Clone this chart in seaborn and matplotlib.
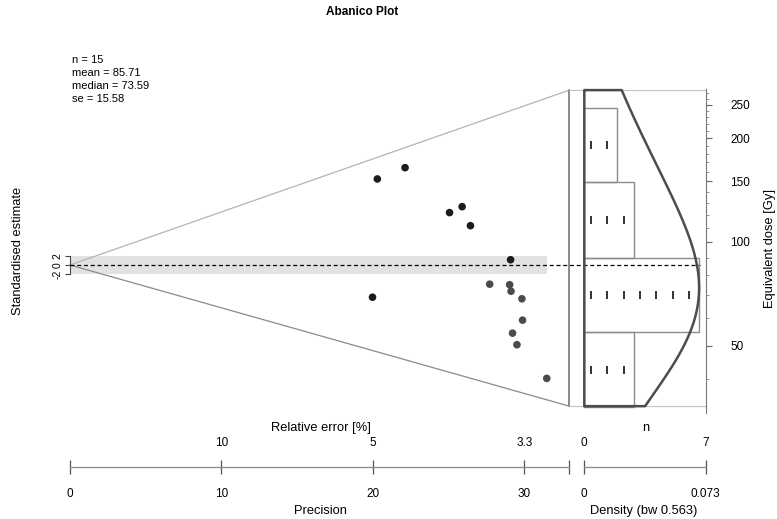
import numpy as np
import pandas as pd
import matplotlib
matplotlib.use("Agg")
import matplotlib.pyplot as plt
import seaborn as sns

# ---------------- data ----------------
de_gy = [217.9, 225.7, 135.8, 140.7, 118.9, 89.2, 60.1, 73.59, 73.8, 70.3, 66.8, 57.1, 51.3, 47.3, 38.8]
precision = [20.30, 22.13, 25.07, 25.90, 26.45, 29.10, 19.98, 27.72, 29.04, 29.13, 29.85, 29.89, 29.23, 29.52, 31.49]
point_group = ["dark"] * 7 + ["grey"] * 8
central_de = 85.71
de_limits = [33.4, 275.5]
hist_edges = [33.2, 54.8, 90.0, 149.0, 245.0]
kde_bw = 0.563
kde_max = 0.073
n_max = 7
stats_lines = ["n = 15", "mean = 85.71", "median = 73.59", "se = 15.58"]
precision_ticks = [0, 10, 20, 30]
dose_major = [50, 100, 150, 200, 250]
dose_minor = list(range(40, 280, 10))

# ---------------- layout (pixels of a 777x519 canvas) ----------------
W, H = 777, 519
X0, PX_P = 70.0, 15.14        # precision 0 position, px per precision unit
Y0, PX_Z = 265.0, 4.542       # z = 0 position, px per standardised unit
P_R = (569.3 - X0) / PX_P     # right edge of radial part
HX0, PX_N = 584.3, 16.4       # histogram zero, px per count
L, R, T, B = 60.0, 720.0, 80.0, 415.0
AX_RIGHT_PX = 706.0
DASH_END_PX = 700.0
LINE_Y = 466.7

def fx(px):
    return px / W

def fy(py):
    return 1.0 - py / H

sns.set_theme(style="white")
plt.rcParams["font.family"] = ["Liberation Sans", "DejaVu Sans"]
plt.rcParams["axes.unicode_minus"] = False
plt.rcParams["text.color"] = "black"
plt.rcParams["xtick.color"] = "black"
plt.rcParams["ytick.color"] = "black"
plt.rcParams["xtick.labelcolor"] = "black"
plt.rcParams["ytick.labelcolor"] = "black"

fig = plt.figure(figsize=(7.77, 5.19), dpi=100)
rect = [fx(L), fy(B), fx(R) - fx(L), fy(T) - fy(B)]

# ---------------- radial (abanico) part ----------------
ax = fig.add_axes(rect)
xlim = ((L - X0) / PX_P, (R - X0) / PX_P)
ylim = ((Y0 - B) / PX_Z, (Y0 - T) / PX_Z)
ax.set_xlim(*xlim)
ax.set_ylim(*ylim)

lnC = np.log(central_de)
z = (np.log(de_gy) - lnC) * np.array(precision)
df = pd.DataFrame({"precision": precision, "z": z, "group": point_group})

z_top = (np.log(de_limits[1]) - lnC) * P_R
z_bot = (np.log(de_limits[0]) - lnC) * P_R
p_axis = (AX_RIGHT_PX - X0) / PX_P

ax.fill_between([0, max(precision)], -2, 2, color="#e2e2e2", lw=0, zorder=0)
ax.plot([0, P_R], [0, z_top], color="#b4b4b4", lw=0.9, zorder=1)
ax.plot([0, P_R], [0, z_bot], color="#8a8a8a", lw=0.9, zorder=1)
ax.plot([P_R, P_R], [z_bot, z_top], color="#8a8a8a", lw=1.4, zorder=1)
ax.hlines([z_top, z_bot], P_R, p_axis, color="#c4c4c4", lw=0.8, zorder=1)
ax.plot([0, (DASH_END_PX - X0) / PX_P], [0, 0], color="black", lw=0.9,
        dashes=(3.2, 2.2), zorder=3)

sns.scatterplot(data=df, x="precision", y="z", hue="group",
                palette={"dark": "#1c1c1c", "grey": "#4b4b4b"},
                s=30, edgecolor="none", legend=False, ax=ax, zorder=4)

for side in ["top", "right", "bottom"]:
    ax.spines[side].set_visible(False)
ax.spines["left"].set_position(("data", 0))
ax.spines["left"].set_bounds(-2, 2)
ax.spines["left"].set_color("#444444")
ax.spines["left"].set_linewidth(0.8)
ax.set_xticks([])
ax.set_yticks([-2, 0, 2])
ax.set_yticklabels(["-2", "0", "2"], rotation=90, va="center", fontsize=7.5)
ax.tick_params(axis="y", left=True, length=3.5, width=0.8, color="#444444", pad=2)
ax.set_xlabel("")
ax.set_ylabel("")
ax.grid(False)

# ---------------- histogram / KDE part ----------------
axh = fig.add_axes(rect)
axh.patch.set_visible(False)
axh.set_xlim((L - HX0) / PX_N, (R - HX0) / PX_N)
axh.set_ylim(lnC + ylim[0] / P_R, lnC + ylim[1] / P_R)

ln_de = np.log(de_gy)
sns.histplot(y=ln_de, bins=np.log(hist_edges), ax=axh, fill=False,
             color="#8c8c8c", linewidth=1.0)

grid = np.linspace(np.log(de_limits[0]), np.log(de_limits[1]), 300)
dens = np.exp(-0.5 * ((grid[:, None] - ln_de[None, :]) / kde_bw) ** 2).sum(axis=1)
dens = dens / dens.max() * kde_max
axh.fill_betweenx(grid, 0, dens * n_max / kde_max, facecolor="none",
                  edgecolor="#4d4d4d", lw=1.8)

counts, _ = np.histogram(ln_de, bins=np.log(hist_edges))
log_edges = np.log(hist_edges)
rx, ry = [], []
for i, c in enumerate(counts):
    mid = 0.5 * (log_edges[i] + log_edges[i + 1])
    for k in range(c):
        rx.append(k + 0.4)
        ry.append(mid)
axh.plot(rx, ry, ls="none", marker="|", ms=5.5, mew=1.3, color="#222222")

for side in ["top", "left", "bottom"]:
    axh.spines[side].set_visible(False)
axh.spines["right"].set_visible(True)
axh.spines["right"].set_position(("axes", (AX_RIGHT_PX - L) / (R - L)))
axh.spines["right"].set_bounds(np.log(31.9), np.log(277))
axh.spines["right"].set_color("#777777")
axh.spines["right"].set_linewidth(0.8)
axh.set_xticks([])
axh.yaxis.tick_right()
axh.set_yticks(np.log(dose_major))
axh.set_yticklabels([str(v) for v in dose_major], fontsize=8.5)
axh.set_yticks(np.log(dose_minor), minor=True)
axh.tick_params(axis="y", which="major", right=True, length=4.5, width=0.8,
                color="#666666", pad=13)
axh.tick_params(axis="y", which="minor", right=True, length=2.2, width=0.6,
                color="#888888")
axh.set_xlabel("")
axh.set_ylabel("")
axh.grid(False)

# ---------------- bottom axes: precision / relative error ----------------
axb = fig.add_axes([fx(L), fy(LINE_Y), fx(R) - fx(L), 1e-4])
axb.set_xlim(*xlim)
axb.patch.set_visible(False)
for side in ["top", "left", "right"]:
    axb.spines[side].set_visible(False)
axb.spines["bottom"].set_bounds(0, P_R)
axb.spines["bottom"].set_color("#8a8a8a")
axb.spines["bottom"].set_linewidth(0.9)
axb.set_yticks([])
axb.set_xticks(precision_ticks + [P_R])
axb.set_xticklabels([str(t) for t in precision_ticks] + [""], fontsize=8.5)
axb.tick_params(axis="x", bottom=True, direction="inout", length=10, width=0.9,
                color="#555555", pad=10.3)
sec = axb.secondary_xaxis("top")
sec.set_xticks(precision_ticks[1:])
sec.set_xticklabels(["%g" % round(100.0 / p, 1) for p in precision_ticks[1:]],
                    fontsize=8.5)
sec.tick_params(axis="x", top=True, length=0, pad=12.7)
for sp in sec.spines.values():
    sp.set_visible(False)

# ---------------- bottom axes: density / n ----------------
axd = fig.add_axes([fx(HX0), fy(LINE_Y), fx(705.7) - fx(HX0), 1e-4])
axd.set_xlim(0, kde_max)
axd.patch.set_visible(False)
for side in ["top", "left", "right"]:
    axd.spines[side].set_visible(False)
axd.spines["bottom"].set_color("#8a8a8a")
axd.spines["bottom"].set_linewidth(0.9)
axd.set_yticks([])
axd.set_xticks([0, kde_max])
axd.set_xticklabels(["0", "%g" % kde_max], fontsize=8.5)
axd.tick_params(axis="x", bottom=True, direction="inout", length=10, width=0.9,
                color="#555555", pad=10.3)
secd = axd.secondary_xaxis("top", functions=(lambda v: v * n_max / kde_max,
                                             lambda v: v * kde_max / n_max))
secd.set_xticks([0, n_max])
secd.set_xticklabels(["0", str(n_max)], fontsize=8.5)
secd.tick_params(axis="x", top=True, length=0, pad=12.7)
for sp in secd.spines.values():
    sp.set_visible(False)

# ---------------- texts ----------------
fig.text(fx(362), fy(12), "Abanico Plot", ha="center", va="center",
         fontsize=8.5, weight="bold")
for i, line in enumerate(stats_lines):
    fig.text(fx(72), fy(60 + 12.9 * i), line, ha="left", va="center", fontsize=8)
fig.text(fx(18), fy(251), "Standardised estimate", rotation=90,
         ha="center", va="center", fontsize=9.3)
fig.text(fx(770), fy(249), "Equivalent dose [Gy]", rotation=90,
         ha="center", va="center", fontsize=9.3)
fig.text(fx(321), fy(428), "Relative error [%]", ha="center", va="center", fontsize=9.3)
fig.text(fx(646), fy(428), "n", ha="center", va="center", fontsize=9.3)
fig.text(fx(320), fy(511), "Precision", ha="center", va="center", fontsize=9.3)
fig.text(fx(644), fy(511), "Density (bw 0.563)", ha="center", va="center", fontsize=9.3)

fig.savefig("out.png", dpi=100)
